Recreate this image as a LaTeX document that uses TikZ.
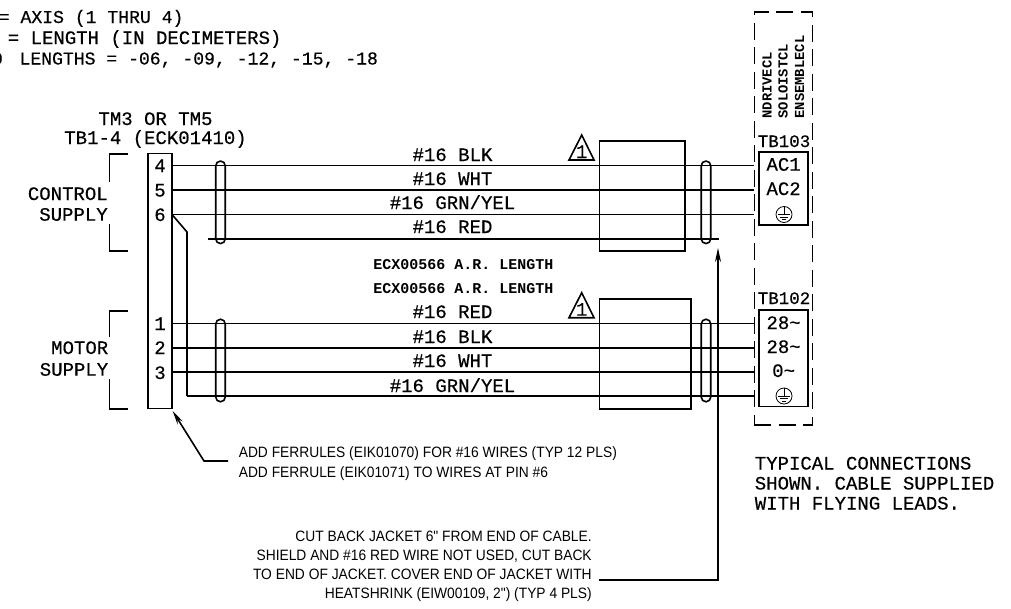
\documentclass[tikz,border=0pt]{standalone}
\usepackage{fontspec}
\newfontfamily\notefam[FakeStretch=0.92]{Liberation Sans}
\newfontfamily\cadfam[FakeBold=0.4]{Liberation Mono}
\newfontfamily\cadbold{Liberation Mono Bold}
\usetikzlibrary{arrows.meta}

\tikzset{
  cadtext/.style={anchor=base, inner sep=0pt, font=\fontsize{19}{21}\selectfont\cadfam},
  toptext/.style={anchor=base west, inner sep=0pt, font=\fontsize{18.1}{21}\selectfont\cadfam},
  smalltext/.style={anchor=base, inner sep=0pt, font=\fontsize{15}{17}\selectfont\cadbold},
  sidetext/.style={anchor=base west, rotate=90, inner sep=0pt, font=\fontsize{13.8}{15}\selectfont\cadbold},
  notetext/.style={inner sep=0pt, font=\fontsize{15}{19}\selectfont\notefam},
  boxed/.style={draw, inner sep=0pt},
  shieldloop/.style={draw, inner sep=0pt, rounded corners=4.7pt, minimum width=9.5pt, minimum height=82.5pt},
  groundmark/.style={draw, circle, inner sep=0pt, minimum size=16pt}
}

\begin{document}
\begin{tikzpicture}
      [x=1pt,y=-1pt,line width=1.6pt]
    \useasboundingbox (0,0) rectangle (1011,608);

    % note at the top left, cut off by the sheet edge
    \node[toptext] (n1) at (-2,23) {= AXIS (1 THRU 4)};
    \node[cadtext,anchor=base west] (n2) at (7,44) {= LENGTH (IN DECIMETERS)};
    \node[toptext] (n3) at (-9,64.5) {O\hspace{6pt} LENGTHS = -06, -09, -12, -15, -18};

    \node[cadtext] (tm) at (155.5,125) {TM3 OR TM5};
    \node[cadtext] (tb) at (155.5,144) {TB1-4 (ECK01410)};

    % terminal strip and pins
    \node[boxed,minimum width=24.5pt,minimum height=255pt] (strip) at (160,281) {};
    \foreach \n/\y in {4/172,5/196.5,6/221,1/330,2/354,3/379}
      \node[cadtext] (p\n) at (160,\y) {\n};

    % brackets
    \node[cadtext,anchor=base east] (control) at (108.5,200) {CONTROL};
    \node[cadtext,anchor=base east] (csupply) at (108.5,220.7) {SUPPLY};
    \node[cadtext,anchor=base east] (motor) at (109,354) {MOTOR};
    \node[cadtext,anchor=base east] (msupply) at (109,375.7) {SUPPLY};
    \coordinate (b1a) at (128.3,153.7);
    \coordinate (b1b) at (109.3,181.7);
    \coordinate (b2a) at (128.3,250.7);
    \coordinate (b2b) at (109.3,224);
    \coordinate (b3a) at (128.3,311);
    \coordinate (b3b) at (109.3,336.7);
    \coordinate (b4a) at (128.3,409);
    \coordinate (b4b) at (109.3,379);
    \foreach \from/\to in {b1a/b1b, b2a/b2b, b3a/b3b, b4a/b4b}
      \draw (\from) -| (\to);

    % wire ends
    \foreach \n/\y in {4/165.5,5/190,6/214.5,1/323.5,2/348,3/372,g/396}{
      \coordinate (wl\n) at (172,\y);
      \coordinate (wr\n) at (754.3,\y);
    }
    \coordinate (redl) at (208,239);
    \coordinate (redr) at (718.5,239);
    \coordinate (bend) at (187,232);
    \coordinate (wlg) at (187,396);

    \foreach \from/\to in {wl4/wr4, wl5/wr5, wl6/wr6, redl/redr, wl1/wr1, wl2/wr2, wl3/wr3, wlg/wrg}
      \draw (\from) -- (\to);
    \draw (wl6) -- (bend) -- (wlg);

    % wire colours
    \node[cadtext] (c1) at (452.5,161) {\#16 BLK};
    \node[cadtext] (c2) at (452.5,185) {\#16 WHT};
    \node[cadtext] (c3) at (452.5,209) {\#16 GRN/YEL};
    \node[cadtext] (c4) at (452.5,233) {\#16 RED};
    \node[smalltext] (len1) at (463.5,269) {ECX00566 A.R. LENGTH};
    \node[smalltext] (len2) at (463.5,293) {ECX00566 A.R. LENGTH};
    \node[cadtext] (c5) at (452.5,318) {\#16 RED};
    \node[cadtext] (c6) at (452.5,343) {\#16 BLK};
    \node[cadtext] (c7) at (452.5,367) {\#16 WHT};
    \node[cadtext] (c8) at (452.5,392) {\#16 GRN/YEL};

    % shields and jackets
    \node[shieldloop] (s1) at (220.5,202.3) {};
    \node[shieldloop] (s2) at (706,202.3) {};
    \node[shieldloop] (s3) at (220.5,360.5) {};
    \node[shieldloop] (s4) at (706,360.5) {};
    \node[boxed,minimum width=85.5pt,minimum height=110pt] (j1) at (642.25,196) {};
    \node[boxed,minimum width=91.5pt,minimum height=110pt] (j2) at (645.25,354) {};

    % revision flags
    \foreach \n/\y in {f1/160,f2/317.7}{
      \coordinate (\n a) at (581.7,\y-25);
      \coordinate (\n b) at (569,\y);
      \coordinate (\n c) at (594,\y);
      \draw (\n a) -- (\n b) -- (\n c) -- cycle;
      \node[inner sep=0pt,anchor=base,font=\fontsize{19}{21}\selectfont\cadfam] (\n t) at (581.7,\y-2) {1};
    }

    % drive side
    \node[boxed,dashed,dash pattern=on 17pt off 7.5pt,minimum width=58pt,minimum height=412.7pt] (drive) at (783.3,218.6) {};
    \node[sidetext] (d1) at (771.7,119.3) {NDRIVECL};
    \node[sidetext] (d2) at (787.7,119.3) {SOLOISTCL};
    \node[sidetext] (d3) at (804,119.3) {ENSEMBLECL};
    \node[cadtext,font=\fontsize{17.5}{21}\selectfont\cadfam] (tb103) at (784,147) {TB103};
    \node[cadtext,font=\fontsize{17.5}{21}\selectfont\cadfam] (tb102) at (784,304) {TB102};
    \node[boxed,minimum width=49.3pt,minimum height=73pt] (box103) at (783.6,188.5) {};
    \node[boxed,minimum width=49.3pt,minimum height=96.7pt] (box102) at (783.6,358.3) {};
    \node[cadtext] (ac1) at (783.6,170.7) {AC1};
    \node[cadtext] (ac2) at (783.6,195) {AC2};
    \node[cadtext] (v1) at (783.6,329) {28\char`\~};
    \node[cadtext] (v2) at (783.6,353) {28\char`\~};
    \node[cadtext] (v3) at (783.6,377) {0\char`\~};
    \foreach \n/\y in {g1/214.5,g2/396}{
      \node[groundmark,line width=.8pt] (\n) at (784,\y) {};
      \draw[line width=.8pt] (\n.north) -- (\n.center);
      \draw[line width=.8pt] ([xshift=-6pt]\n.center) -- ([xshift=6pt]\n.center);
      \draw[line width=.8pt] ([xshift=-4pt,yshift=-2.5pt]\n.center) -- ([xshift=4pt,yshift=-2.5pt]\n.center);
      \draw[line width=.8pt] ([xshift=-2pt,yshift=-5pt]\n.center) -- ([xshift=2pt,yshift=-5pt]\n.center);
    }

    % notes and leaders
    \node[cadtext,anchor=north west,align=left,font=\fontsize{19}{20}\selectfont\cadfam] (typ) at (754,456)
      {TYPICAL CONNECTIONS\\SHOWN. CABLE SUPPLIED\\WITH FLYING LEADS.};
    \node[notetext,anchor=north west,align=left,font=\fontsize{15}{20}\selectfont\notefam] (ferrule) at (238,445.5)
      {ADD FERRULES (EIK01070) FOR \#16 WIRES (TYP 12 PLS)\\ADD FERRULE (EIK01071) TO WIRES AT PIN \#6};
    \node[notetext,anchor=north east,align=right] (jacket) at (592.5,530.5)
      {CUT BACK JACKET 6" FROM END OF CABLE.\\SHIELD AND \#16 RED WIRE NOT USED, CUT BACK\\TO END OF JACKET. COVER END OF JACKET WITH\\HEATSHRINK (EIW00109, 2") (TYP 4 PLS)};

    \coordinate (fa) at (228,461);
    \coordinate (fb) at (204,461);
    \coordinate (fc) at (172.7,411);
    \draw[-{Stealth[length=14pt,width=6pt]}] (fa) -- (fb) -- (fc);
    \coordinate (ja) at (599,580);
    \coordinate (jb) at (718,248);
    \draw[-{Stealth[length=14pt,width=6pt]}] (ja) -| (jb);
  \end{tikzpicture}
\end{document}
